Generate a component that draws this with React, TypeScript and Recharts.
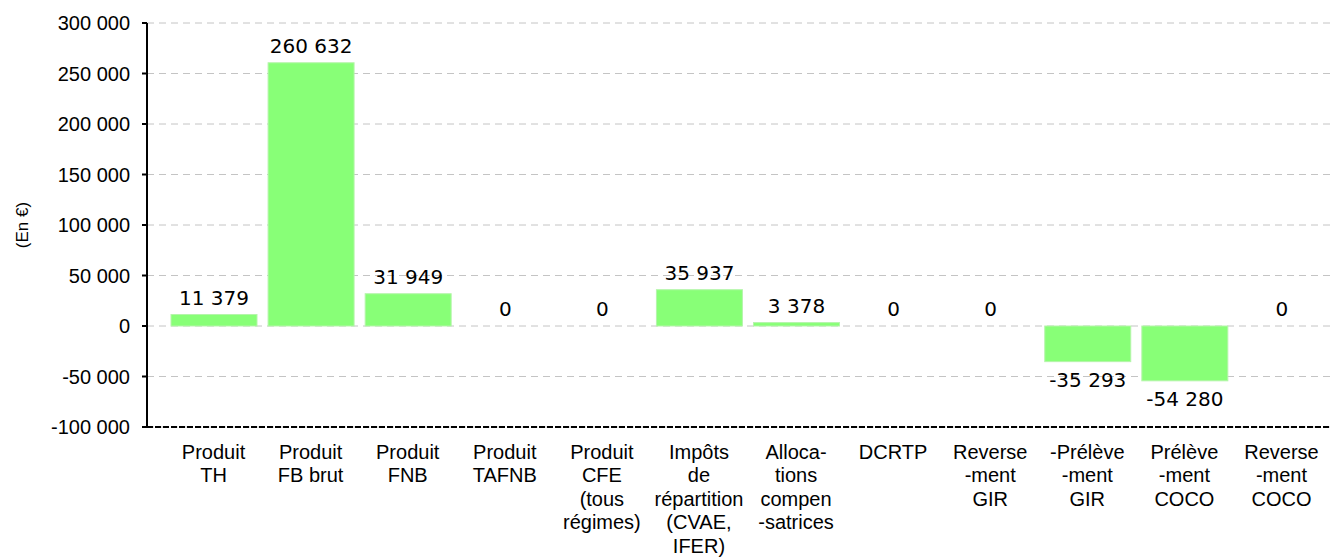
import { BarChart, Bar, CartesianGrid, XAxis, YAxis } from "recharts";

const categories = [
  "Produit\nTH",
  "Produit\nFB brut",
  "Produit\nFNB",
  "Produit\nTAFNB",
  "Produit\nCFE\n(tous\nrégimes)",
  "Impôts\nde\nrépartition\n(CVAE,\nIFER)",
  "Alloca-\ntions\ncompen\n-satrices",
  "DCRTP",
  "Reverse\n-ment\nGIR",
  "-Prélève\n-ment\nGIR",
  "Prélève\n-ment\nCOCO",
  "Reverse\n-ment\nCOCO",
];

const values = [11379, 260632, 31949, 0, 0, 35937, 3378, 0, 0, -35293, -54280, 0];

const yTicks = [-100000, -50000, 0, 50000, 100000, 150000, 200000, 250000, 300000];

const data = categories.map((name, i) => ({ name, value: values[i] }));

const fmt = (v: number) => {
  const s = Math.abs(v).toString().replace(/\B(?=(\d{3})+(?!\d))/g, " ");
  return v < 0 ? "-" + s : s;
};

const CategoryTick = (props: any) => {
  const { x, y, payload } = props;
  const lines = String(payload.value).split("\n");
  return (
    <text
      x={x}
      y={y}
      textAnchor="middle"
      fontFamily="'Liberation Sans', Arial, sans-serif"
      fontSize={20}
      fill="#000"
    >
      {lines.map((l, i) => (
        <tspan key={i} x={x} y={y + 24 + i * 23.4}>
          {l}
        </tspan>
      ))}
    </text>
  );
};

// draws the bar and its value label (so zero bars still get their "0")
const BarWithLabel = (props: any) => {
  const { x, y, width, height, payload } = props;
  const v = payload.value as number;
  const top = Math.min(y, y + height);
  const bottom = Math.max(y, y + height);
  const h = bottom - top;
  const cx = x + width / 2;
  const ty = v < 0 ? bottom + 25 : top - 10;
  return (
    <g>
      {h > 0 && (
        <rect x={x} y={top} width={width} height={h} fill="#88ff77" stroke="#b5f5aa" strokeWidth={1} />
      )}
      <text
        x={cx}
        y={ty}
        textAnchor="middle"
        fontFamily="'DejaVu Sans', sans-serif"
        fontSize={20}
        fill="#000"
      >
        {fmt(v)}
      </text>
    </g>
  );
};

const YLabel = () => (
  <text
    x={0}
    y={0}
    transform="translate(28, 225) rotate(-90)"
    textAnchor="middle"
    fontFamily="'Liberation Sans', Arial, sans-serif"
    fontSize={17}
    fill="#000"
  >
    (En €)
  </text>
);

export default function App() {
  return (
    <div style={{ position: "absolute", left: 0, top: 0, background: "#fff" }}>
      <BarChart
        width={1330}
        height={558}
        data={data}
        margin={{ top: 23, right: 0, bottom: 0, left: 0 }}
        barSize={86}
      >
        <CartesianGrid vertical={false} stroke="#c4c4c4" strokeDasharray="7 5" />
        <XAxis
          dataKey="name"
          interval={0}
          padding={{ left: 18, right: 0 }}
          tick={<CategoryTick />}
          tickLine={false}
          axisLine={{ stroke: "#000", strokeWidth: 2, strokeDasharray: "6 2" }}
          height={131}
        />
        <YAxis
          width={147}
          domain={[-100000, 300000]}
          ticks={yTicks}
          interval={0}
          tickFormatter={fmt}
          tickSize={5}
          tickMargin={12}
          tickLine={{ stroke: "#000", strokeWidth: 2 }}
          axisLine={{ stroke: "#000", strokeWidth: 2 }}
          tick={{ fontFamily: "'Liberation Sans', Arial, sans-serif", fontSize: 20, fill: "#000" }}
          label={<YLabel />}
        />
        <Bar dataKey="value" shape={<BarWithLabel />} isAnimationActive={false} />
      </BarChart>
    </div>
  );
}
